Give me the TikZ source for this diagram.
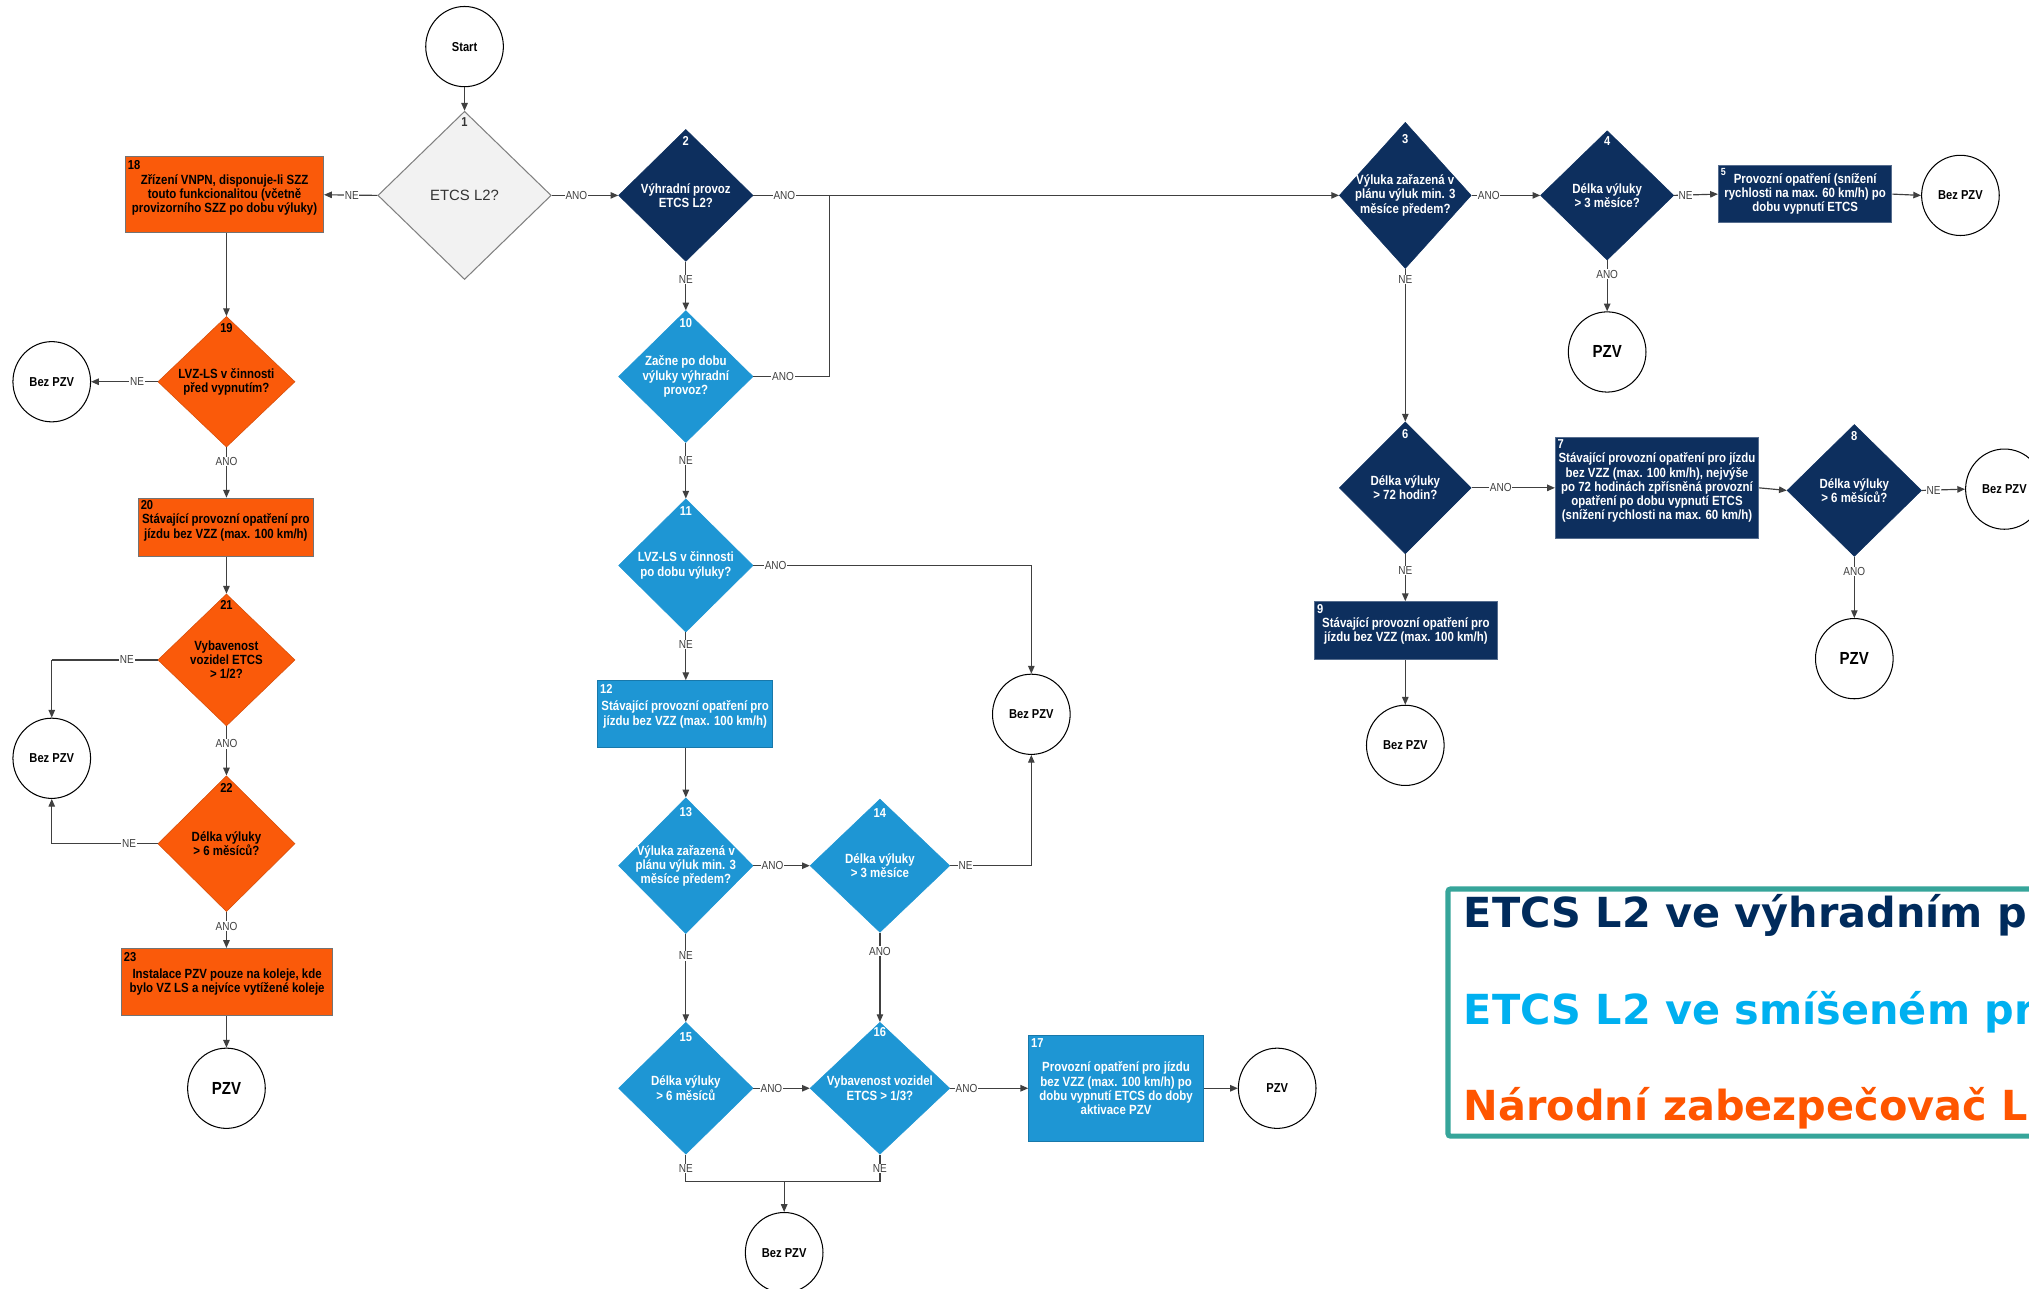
\documentclass[tikz,border=0pt]{standalone}
\usepackage{fontspec}
\setmainfont{Liberation Sans}
\newfontfamily\narrowfont[FakeStretch=0.86]{Liberation Sans}
\newfontfamily\legendfont{DejaVu Sans}
\usetikzlibrary{shapes.geometric,arrows.meta}
\definecolor{navy}{HTML}{0D2F5E}
\definecolor{sky}{HTML}{1E96D4}
\definecolor{orng}{HTML}{FA5A0A}
\definecolor{tealb}{HTML}{36A59A}
\definecolor{legsky}{HTML}{00B0F0}
\definecolor{legnavy}{HTML}{002B5C}
\definecolor{legorng}{HTML}{FF5500}
\definecolor{linec}{HTML}{404040}
\definecolor{startgray}{HTML}{F2F2F2}
\begin{document}
\begin{tikzpicture}[x=1pt,y=-1pt,
  dia/.style={diamond, inner sep=0pt, minimum width=104, minimum height=102},
  dnavy/.style={dia, fill=navy, draw=navy},
  dsky/.style={dia, fill=sky, draw=sky},
  dorng/.style={dia, fill=orng, draw=orng!85!black},
  dtext/.style={align=center, inner sep=0pt, font=\narrowfont\bfseries\fontsize{10.3}{11}\selectfont},
  wtext/.style={dtext, text=white},
  ktext/.style={dtext, text=black},
  box/.style={rectangle, inner sep=0pt, align=center, font=\narrowfont\bfseries\fontsize{10.3}{11}\selectfont},
  bnavy/.style={box, fill=navy, draw=navy!70!white, line width=0.8, text=white},
  bsky/.style={box, fill=sky, draw=sky!80!black, line width=0.8, text=white},
  borng/.style={box, fill=orng, draw=black!55, line width=0.8, text=black},
  num/.style={inner sep=0pt, font=\narrowfont\bfseries\fontsize{10}{10}\selectfont},
  term/.style={ellipse, draw=black, line width=0.8, fill=white, minimum width=60, minimum height=62, inner sep=0pt, font=\narrowfont\bfseries\fontsize{10}{11}\selectfont},
  termbig/.style={term, font=\narrowfont\bfseries\fontsize{13.5}{14}\selectfont},
  conn/.style={draw=linec, line width=0.9},
  arr/.style={conn, -{Triangle[length=6pt,width=5pt]}},
  lbl/.style={fill=white, inner sep=0.6pt, text=linec, font=\narrowfont\fontsize{9}{9}\selectfont},
  legtext/.style={anchor=base west, inner sep=0pt, font=\legendfont\bfseries\fontsize{32}{34}\selectfont}
]
\useasboundingbox (0,0) rectangle (1568,996);
\fill[white] (0,0) rectangle (1568,996);

% ---------- start and decision 1 ----------
\node[term] (start) at (359,36) {Start};
\node[diamond, fill=startgray, draw=black!50, line width=0.8, inner sep=0pt, minimum width=134, minimum height=130] (d1) at (359,151) {};
\node[inner sep=0pt, text=black!80, font=\fontsize{11.5}{12}\selectfont] (t1) at (d1) {ETCS L2?};
\node[num, text=black!80] (n1) at ([yshift=-9pt]d1.north) {1};

% ---------- left (orange) column ----------
\node[borng, minimum width=153, minimum height=59] (b18) at (173.5,150.5) {Zřízení VNPN, disponuje-li SZZ\\touto funkcionalitou (včetně\\provizorního SZZ po dobu výluky)};
\node[num, anchor=north west] (n18) at ([xshift=2pt,yshift=-3pt]b18.north west) {18};

\node[dorng, minimum width=106, minimum height=101] (d19) at (175,295) {};
\node[ktext] (t19) at (d19) {LVZ-LS v činnosti\\před vypnutím?};
\node[num] (n19) at ([yshift=-9pt]d19.north) {19};
\node[term] (c19) at (40,295) {Bez PZV};

\node[borng, minimum width=135, minimum height=45] (b20) at (174.5,407.5) {Stávající provozní opatření pro\\jízdu bez VZZ (max. 100 km/h)};
\node[num, anchor=north west] (n20) at ([xshift=2pt,yshift=-2pt]b20.north west) {20};

\node[dorng, minimum width=106, minimum height=102] (d21) at (175,510) {};
\node[ktext] (t21) at (d21) {Vybavenost\\vozidel ETCS\\> 1/2?};
\node[num] (n21) at ([yshift=-9pt]d21.north) {21};
\node[term] (c21) at (40,586) {Bez PZV};

\node[dorng, minimum width=106, minimum height=105] (d22) at (175,652) {};
\node[ktext] (t22) at (d22) {Délka výluky\\> 6 měsíců?};
\node[num] (n22) at ([yshift=-10pt]d22.north) {22};

\node[borng, minimum width=163, minimum height=52] (b23) at (175.5,759) {Instalace PZV pouze na koleje, kde\\bylo VZ LS a nejvíce vytížené koleje};
\node[num, anchor=north west] (n23) at ([xshift=2pt,yshift=-3pt]b23.north west) {23};
\node[termbig] (c23) at (175,841) {PZV};

% ---------- middle (light blue) column ----------
\node[dnavy] (d2) at (530,151) {};
\node[wtext] (t2) at (d2) {Výhradní provoz\\ETCS L2?};
\node[num, text=white] (n2) at ([yshift=-9pt]d2.north) {2};

\node[dsky] (d10) at (530,291) {};
\node[wtext] (t10) at (d10) {Začne po dobu\\výluky výhradní\\provoz?};
\node[num, text=white] (n10) at ([yshift=-10pt]d10.north) {10};
\coordinate (j10) at (641,291);

\node[dsky, minimum height=103] (d11) at (530,437) {};
\node[wtext] (t11) at (d11) {LVZ-LS v činnosti\\po dobu výluky?};
\node[num, text=white] (n11) at ([yshift=-10pt]d11.north) {11};
\node[term] (c11) at (797,552) {Bez PZV};

\node[bsky, minimum width=135, minimum height=52] (b12) at (529.5,552) {Stávající provozní opatření pro\\jízdu bez VZZ (max. 100 km/h)};
\node[num, text=white, anchor=north west] (n12) at ([xshift=2pt,yshift=-3pt]b12.north west) {12};

\node[dsky, minimum height=105] (d13) at (530,669) {};
\node[wtext] (t13) at (d13) {Výluka zařazená v\\plánu výluk min. 3\\měsíce předem?};
\node[num, text=white] (n13) at ([yshift=-11pt]d13.north) {13};

\node[dsky, minimum width=108, minimum height=103] (d14) at (680,669) {};
\node[wtext] (t14) at (d14) {Délka výluky\\> 3 měsíce};
\node[num, text=white] (n14) at ([yshift=-11pt]d14.north) {14};

\node[dsky] (d15) at (530,841) {};
\node[wtext] (t15) at (d15) {Délka výluky\\> 6 měsíců};
\node[num, text=white] (n15) at ([yshift=-12pt]d15.north) {15};

\node[dsky, minimum width=108] (d16) at (680,841) {};
\node[wtext] (t16) at (d16) {Vybavenost vozidel\\ETCS > 1/3?};
\node[num, text=white] (n16) at ([yshift=-8pt]d16.north) {16};

\node[bsky, minimum width=135, minimum height=82] (b17) at (862.5,841) {Provozní opatření pro jízdu\\bez VZZ (max. 100 km/h) po\\dobu vypnutí ETCS do doby\\aktivace PZV};
\node[num, text=white, anchor=north west] (n17) at ([xshift=2pt,yshift=-3pt]b17.north west) {17};
\node[term] (c17) at (987,841) {PZV};

\coordinate (jb) at (606,913);
\node[term] (c15) at (606,968) {Bez PZV};

% ---------- right (navy) part ----------
\node[dnavy, minimum width=102, minimum height=113] (d3) at (1086,151) {};
\node[wtext] (t3) at (d3) {Výluka zařazená v\\plánu výluk min. 3\\měsíce předem?};
\node[num, text=white] (n3) at ([yshift=-13pt]d3.north) {3};

\node[dnavy, minimum width=103, minimum height=100] (d4) at (1242,151) {};
\node[wtext] (t4) at (d4) {Délka výluky\\> 3 měsíce?};
\node[num, text=white] (n4) at ([yshift=-8pt]d4.north) {4};

\node[bnavy, minimum width=134, minimum height=44] (b5) at (1395,150) {Provozní opatření (snížení\\rychlosti na max. 60 km/h) po\\dobu vypnutí ETCS};
\node[num, text=white, anchor=north west, font=\narrowfont\bfseries\fontsize{8}{8}\selectfont] (n5) at ([xshift=2pt,yshift=-2pt]b5.north west) {5};
\node[term] (c5) at (1515,151) {Bez PZV};
\node[termbig] (c4) at (1242,272) {PZV};

\node[dnavy, minimum width=102] (d6) at (1086,377) {};
\node[wtext] (t6) at (d6) {Délka výluky\\> 72 hodin?};
\node[num, text=white] (n6) at ([yshift=-10pt]d6.north) {6};

\node[bnavy, minimum width=157, minimum height=78] (b7) at (1280.5,377) {Stávající provozní opatření pro jízdu\\bez VZZ (max. 100 km/h), nejvýše\\po 72 hodinách zpřísněná provozní\\opatření po dobu vypnutí ETCS\\(snížení rychlosti na max. 60 km/h)};
\node[num, text=white, anchor=north west] (n7) at ([xshift=2pt,yshift=-2pt]b7.north west) {7};

\node[dnavy] (d8) at (1433,379) {};
\node[wtext] (t8) at (d8) {Délka výluky\\> 6 měsíců?};
\node[num, text=white] (n8) at ([yshift=-9pt]d8.north) {8};
\node[term] (c8) at (1549,378) {Bez PZV};
\node[termbig] (c8b) at (1433,509) {PZV};

\node[bnavy, minimum width=141, minimum height=45] (b9) at (1086.5,487.5) {Stávající provozní opatření pro\\jízdu bez VZZ (max. 100 km/h)};
\node[num, text=white, anchor=north west] (n9) at ([xshift=2pt,yshift=-2pt]b9.north west) {9};
\node[term] (c9) at (1086,576) {Bez PZV};

% ---------- connectors ----------
\draw[arr] (start) -- (d1);
\draw[arr] (d1.west) -- node[lbl, pos=0.48] {NE} (b18.east);
\draw[arr] (d1.east) -- node[lbl, pos=0.37] {ANO} (d2.west);
\draw[arr] (d2.east) -- node[lbl, pos=0.053] {ANO} (d3.west);
\draw[conn] (d10.east) -- node[lbl, pos=0.39] {ANO} (j10) -- (j10 |- d2.east);
\draw[arr] (d2.south) -- node[lbl, pos=0.37] {NE} (d10.north);
\draw[arr] (d10.south) -- node[lbl, pos=0.32] {NE} (d11.north);
\draw[conn] (d11.east) -- node[lbl, pos=0.08] {ANO} (d11.east -| c11.north);
\draw[arr] (d11.east -| c11.north) -- (c11.north);
\draw[arr] (d11.south) -- node[lbl, pos=0.25] {NE} (b12.north -| d11.south);
\draw[arr] (b12.south -| d13.north) -- (d13.north);
\draw[arr] (d13.east) -- node[lbl, pos=0.34] {ANO} (d14.west);
\draw[conn] (d14.east) -- node[lbl, pos=0.19] {NE} (d14.east -| c11.south);
\draw[arr] (d14.east -| c11.south) -- (c11.south);
\draw[arr] (d14.south) -- node[lbl, pos=0.21] {ANO} (d16.north);
\draw[arr] (d13.south) -- node[lbl, pos=0.25] {NE} (d15.north);
\draw[arr] (d15.east) -- node[lbl, pos=0.32] {ANO} (d16.west);
\draw[arr] (d16.east) -- node[lbl, pos=0.21] {ANO} (b17.west);
\draw[arr] (b17.east) -- (c17.west);
\draw[conn] (d15.south) -- node[lbl, pos=0.52] {NE} (d15.south |- jb) -- (jb);
\draw[conn] (d16.south) -- node[lbl, pos=0.52] {NE} (d16.south |- jb) -- (jb);
\draw[arr] (jb) -- (c15.north);

\draw[arr] (b18.south -| d19.north) -- (d19.north);
\draw[arr] (d19.west) -- node[lbl, pos=0.31] {NE} (c19.east);
\draw[arr] (d19.south) -- node[lbl, pos=0.28] {ANO} (b20.north -| d19.south);
\draw[arr] (b20.south -| d21.north) -- (d21.north);
\draw[conn] (d21.west) -- node[lbl, pos=0.29] {NE} (d21.west -| c21.north);
\draw[arr] (d21.west -| c21.north) -- (c21.north);
\draw[arr] (d21.south) -- node[lbl, pos=0.36] {ANO} (d22.north);
\draw[conn] (d22.west) -- node[lbl, pos=0.27] {NE} (d22.west -| c21.south);
\draw[arr] (d22.west -| c21.south) -- (c21.south);
\draw[arr] (d22.south) -- node[lbl, pos=0.4] {ANO} (b23.north -| d22.south);
\draw[arr] (b23.south -| c23.north) -- (c23.north);

\draw[arr] (d3.east) -- node[lbl, pos=0.25] {ANO} (d4.west);
\draw[arr] (d4.east) -- node[lbl, pos=0.26] {NE} (b5.west);
\draw[arr] (b5.east) -- (c5.west);
\draw[arr] (d4.south) -- node[lbl, pos=0.27] {ANO} (c4.north);
\draw[arr] (d3.south) -- node[lbl, pos=0.07] {NE} (d6.north);
\draw[arr] (d6.east) -- node[lbl, pos=0.35] {ANO} (b7.west);
\draw[arr] (b7.east) -- (d8.west);
\draw[arr] (d8.east) -- node[lbl, pos=0.27] {NE} (c8.west);
\draw[arr] (d8.south) -- node[lbl, pos=0.24] {ANO} (c8b.north);
\draw[arr] (d6.south) -- node[lbl, pos=0.35] {NE} (b9.north -| d6.south);
\draw[arr] (b9.south -| c9.north) -- (c9.north);

% ---------- legend ----------
\node[draw=tealb, line width=4, rounded corners=2, fill=white, anchor=north west, minimum width=540, minimum height=191, inner sep=0pt] (legend) at (1117,685) {};
\node[legtext, text=legnavy] (lg1) at (1131,717) {ETCS L2 ve výhradním provozu};
\node[legtext, text=legsky] (lg2) at (1131,792) {ETCS L2 ve smíšeném provozu};
\node[legtext, text=legorng] (lg3) at (1131,866) {Národní zabezpečovač LS};
\end{tikzpicture}
\end{document}
